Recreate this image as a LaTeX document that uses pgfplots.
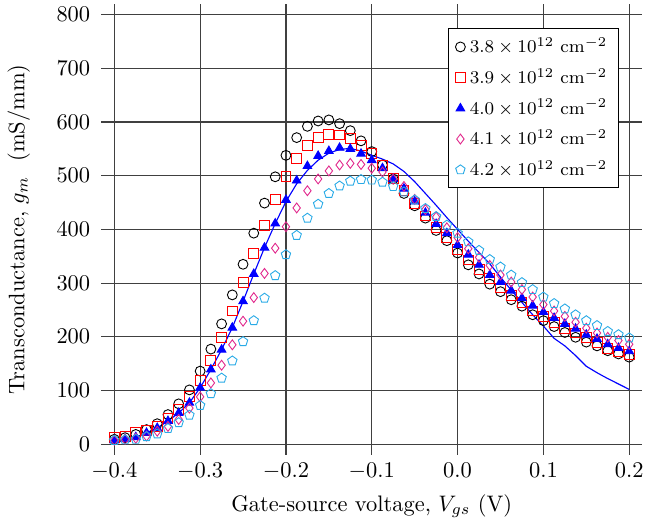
\documentclass[border=0pt]{standalone}
\usepackage{pgfplots}
\pgfplotsset{compat=1.18}
\usepackage{pgfplotstable}
\definecolor{mymag}{RGB}{225,40,140}
\definecolor{mycyan}{RGB}{40,170,230}
\pgfplotstableread{
x a b c d e
-0.4000 9 12 7 7 7
-0.3875 12 15 9 9 8
-0.3750 18 21 13 11 9
-0.3625 27 26 21 15 14
-0.3500 38 33 30 24 19
-0.3375 55 47 43 33 29
-0.3250 75 64 58 46 40
-0.3125 101 89 77 67 54
-0.3000 136 119 105 88 72
-0.2875 177 156 139 114 94
-0.2750 224 199 176 147 123
-0.2625 278 248 217 185 155
-0.2500 335 301 266 229 191
-0.2375 393 355 317 273 230
-0.2250 449 408 366 318 272
-0.2125 498 456 411 365 314
-0.2000 538 498 455 405 353
-0.1875 571 532 491 440 389
-0.1750 592 557 518 472 421
-0.1625 602 572 537 494 447
-0.1500 604 577 546 509 467
-0.1375 597 576 552 520 481
-0.1250 584 569 550 523 490
-0.1125 565 557 541 521 493
-0.1000 545 541 529 514 492
-0.0875 520 519 514 507 488
-0.0750 494 495 494 494 480
-0.0625 467 473 476 480 470
-0.0500 444 449 452 456 455
-0.0375 421 425 431 437 439
-0.0250 398 404 410 423 424
-0.0125 379 385 393 403 408
0.0000 356 363 371 385 393
0.0125 334 343 353 364 377
0.0250 317 325 334 348 361
0.0375 298 308 315 333 344
0.0500 284 291 302 315 330
0.0625 269 277 286 302 315
0.0750 257 264 272 288 301
0.0875 241 248 258 274 288
0.1000 230 238 246 260 274
0.1125 219 227 235 248 262
0.1250 208 216 224 238 252
0.1375 199 207 215 227 241
0.1500 190 198 204 216 230
0.1625 183 190 196 207 221
0.1750 174 179 186 199 210
0.1875 168 173 179 193 204
0.2000 162 167 173 186 198
}\meas
\pgfplotstableread{
x y
-0.4000 7
-0.3875 9
-0.3750 13
-0.3625 21
-0.3500 30
-0.3375 43
-0.3250 58
-0.3125 77
-0.3000 105
-0.2875 139
-0.2750 176
-0.2625 217
-0.2500 266
-0.2375 317
-0.2250 366
-0.2125 411
-0.2000 452
-0.1875 485
-0.1750 510
-0.1625 529
-0.1500 542
-0.1375 549
-0.1250 551
-0.1125 546
-0.1000 538
-0.0875 531
-0.0750 522
-0.0625 508
-0.0500 489
-0.0375 467
-0.0250 445
-0.0125 422
0.0000 400
0.0125 378
0.0250 357
0.0375 336
0.0500 311
0.0625 287
0.0750 264
0.0875 241
0.1000 220
0.1125 197
0.1250 183
0.1375 165
0.1500 145
0.1625 133
0.1750 122
0.1875 112
0.2000 102
}\model
\begin{document}
\begin{tikzpicture}
\begin{axis}[
  scale only axis,
  width=241pt, height=201pt,
  xmin=-0.415, xmax=0.215,
  ymin=-20, ymax=820,
  xtick={-0.4,-0.3,...,0.2},
  ytick={0,100,...,800},
  xticklabels={$-0.4$,$-0.3$,$-0.2$,$-0.1$,$0.0$,$0.1$,$0.2$},
  axis line style={draw=none},
  major tick length=0pt,
  grid=major,
  major grid style={black!75, line width=0.5pt},
  yticklabel style={xshift=-1.5pt},
  xlabel={Gate-source voltage, $V_{gs}$ (V)},
  ylabel={Transconductance, $g_m$\ \ (mS/mm)},
  ylabel style={yshift=5pt},
  legend style={at={(0.957,0.946)}, anchor=north east, font=\footnotesize, draw=black, fill=white, row sep=1.5pt},
  legend cell align=left,
  mark size=2.2pt,
]
\addplot[only marks, mark=o, black, mark options={draw=black}] table[x=x,y=a] {\meas};
\addlegendentry{$3.8\times10^{12}\ \mathrm{cm}^{-2}$}
\addplot[only marks, mark=square, red, mark options={draw=red}] table[x=x,y=b] {\meas};
\addlegendentry{$3.9\times10^{12}\ \mathrm{cm}^{-2}$}
\addplot[only marks, mark=triangle*, blue, mark options={draw=blue, fill=blue}] table[x=x,y=c] {\meas};
\addlegendentry{$4.0\times10^{12}\ \mathrm{cm}^{-2}$}
\addplot[only marks, mark=diamond, mymag, mark options={draw=mymag}] table[x=x,y=d] {\meas};
\addlegendentry{$4.1\times10^{12}\ \mathrm{cm}^{-2}$}
\addplot[only marks, mark=pentagon, mycyan, mark options={draw=mycyan}] table[x=x,y=e] {\meas};
\addlegendentry{$4.2\times10^{12}\ \mathrm{cm}^{-2}$}
\addplot[blue, no marks, line width=0.5pt, forget plot] table[x=x,y=y] {\model};
\end{axis}
\end{tikzpicture}
\end{document}
